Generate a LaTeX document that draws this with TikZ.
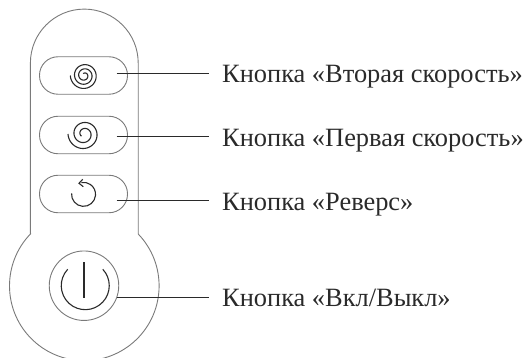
\documentclass[tikz,border=0pt]{standalone}
\usepackage{fontspec}
\setmainfont{Liberation Serif}
\usetikzlibrary{positioning}
\definecolor{bodygray}{HTML}{7A7A7A}
\definecolor{inkdark}{HTML}{2A2A2A}
\tikzset{
  bodyline/.style={draw=bodygray, line width=0.9pt},
  btn/.style={bodyline, rounded corners=18.5pt, minimum width=88pt, minimum height=37.5pt, inner sep=0pt},
  glyph/.style={draw=inkdark, line width=1.1pt},
  leader/.style={draw=inkdark, line width=1.1pt},
  lbl/.style={anchor=base west, inner xsep=13pt, inner ysep=0pt, font=\fontsize{26.4}{30}\selectfont, text=inkdark}
}
\newcommand{\swirl}[5]{\draw[glyph] plot[domain=0:#5, samples=90, smooth] ({#1+(#3-#4*\x/360)*cos(180+\x)}, {#2-(#3-#4*\x/360)*sin(180+\x)});}

\begin{document}
\begin{tikzpicture}[x=1pt,y=-1pt]
            \useasboundingbox (0,0) rectangle (527,358);
            \clip (0,0) rectangle (527,358);
            \draw[bodyline] (30.4,234) -- (30.4,63) arc[start angle=180, end angle=0, x radius=53.9, y radius=-53.9] -- (138.2,234)
              arc[start angle=-43.9, end angle=223.9, x radius=74.8, y radius=74.8] -- cycle;
            \node[btn] (Fast) at (83.5,75.5) {};
            \node[btn] (Slow) at (83.5,135) {};
            \node[btn] (Rev) at (83.5,194) {};
            \node[bodyline, circle, minimum size=69.5pt, inner sep=0pt] (Power) at (84,285.7) {};
            \swirl{84.3}{75.5}{14}{4.2}{1020}
            \swirl{84}{134}{16}{6}{760}
            \draw[glyph] (84,262) -- (84,297.7);
            \draw[glyph] (67.7,269.3) arc[start angle=137, end angle=403, x radius=24, y radius=-24];
            \draw[glyph] (71.6,193.3) arc[start angle=175, end angle=460, x radius=12, y radius=-12];
            \coordinate (RevTip) at (79,183.3);
            \draw[glyph] (82.7,179.3) -- (RevTip) -- (83.3,186.7);
            \node[lbl] (FastLbl) at (209,82.7) {Кнопка «Вторая скорость»};
            \node[lbl] (SlowLbl) at (209,146.7) {Кнопка «Первая скорость»};
            \node[lbl] (RevLbl) at (209,211) {Кнопка «Реверс»};
            \node[lbl] (PowerLbl) at (209,306.7) {Кнопка «Вкл/Выкл»};
            \coordinate (FastEnd) at (116.7,73.4);
            \coordinate (SlowEnd) at (116.7,136.4);
            \coordinate (RevEnd) at (116.7,200.3);
            \coordinate (PowerEnd) at (117,297.7);
            \draw[leader] (FastEnd) -- (FastEnd -| FastLbl.west);
            \draw[leader] (SlowEnd) -- (SlowEnd -| SlowLbl.west);
            \draw[leader] (RevEnd) -- (RevEnd -| RevLbl.west);
            \draw[leader] (PowerEnd) -- (PowerEnd -| PowerLbl.west);
          \end{tikzpicture}
\end{document}
